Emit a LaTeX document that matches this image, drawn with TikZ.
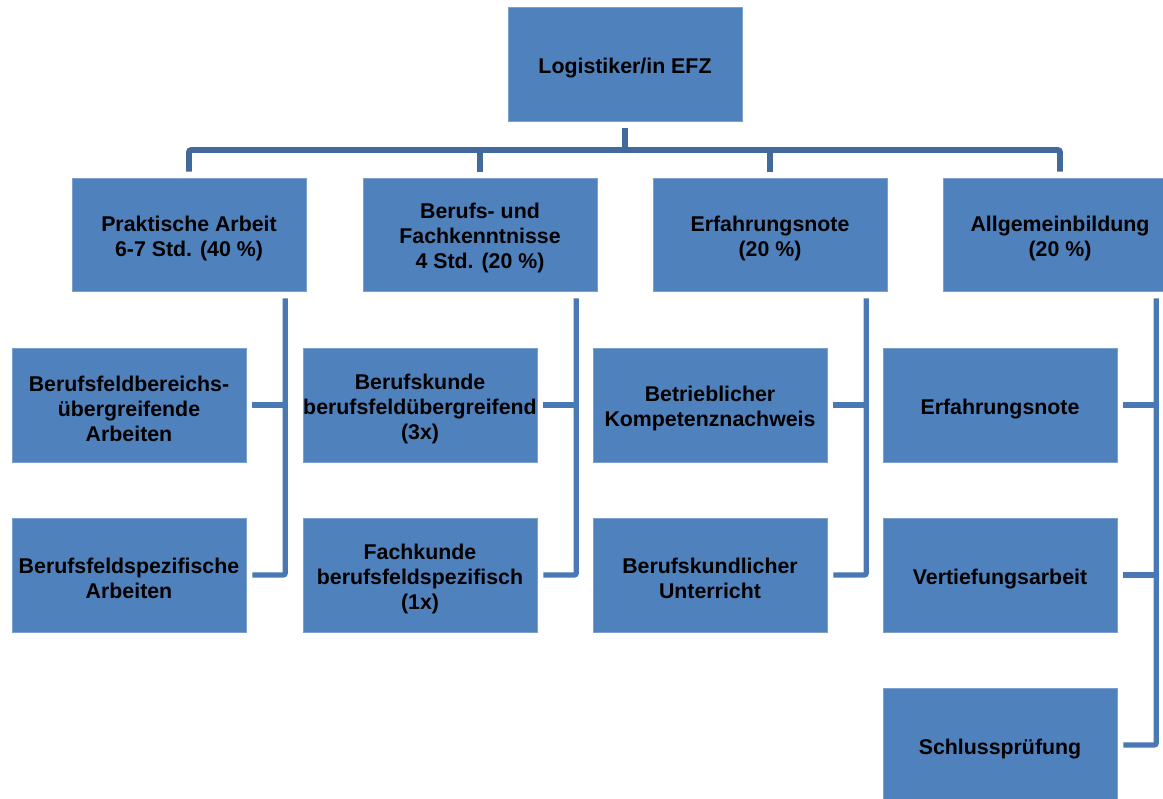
\documentclass[tikz,border=0pt]{standalone}
\usepackage{fontspec}
\setmainfont{Liberation Sans}
\usetikzlibrary{calc}
\definecolor{boxblue}{HTML}{4F81BD}
\definecolor{busline}{HTML}{41699B}
\definecolor{subline}{HTML}{4A78B4}
\begin{document}
\begin{tikzpicture}[x=0.75pt,y=-0.75pt,
  box/.style={fill=boxblue, draw=boxblue!75!white, line width=0.4pt,
    font=\fontsize{16}{18.7}\selectfont\bfseries, align=center, inner sep=0pt,
    minimum width=175.5pt},
  txt/.style={label={[font=\fontsize{16}{18.7}\selectfont\bfseries, align=center, inner sep=0pt, yshift=-2.7pt]center:#1}},
  toplevel/.style={box, minimum height=85.5pt},
  midlevel/.style={box, minimum height=84.75pt},
  leaf/.style={box, minimum height=85.5pt},
  bus/.style={draw=busline, line width=4.2pt, rounded corners=1.5pt},
  sub/.style={draw=subline, line width=3.9pt, rounded corners=1.5pt}
]
\useasboundingbox (0,0) rectangle (1163,799);
\clip (0,0) rectangle (1163,799);
\fill[white] (0,0) rectangle (1163,799);

\node[toplevel, txt={Logistiker/in EFZ}] (root) at (625,64.5) {};

\node[midlevel, txt={Praktische Arbeit\\6-7 Std. (40 \%)}] (a) at (189,234.5) {};
\node[midlevel, txt={Berufs- und\\Fachkenntnisse\\4 Std. (20 \%)}] (b) at (480,234.5) {};
\node[midlevel, txt={Erfahrungsnote\\(20 \%)}] (c) at (770,234.5) {};
\node[midlevel, txt={Allgemeinbildung\\(20 \%)}] (d) at (1060,234.5) {};

\node[leaf, txt={Berufsfeldbereichs-\\übergreifende\\Arbeiten}] (a1) at (129,405) {};
\node[leaf, txt={Berufsfeldspezifische\\Arbeiten}] (a2) at (129,575) {};
\node[leaf, txt={Berufskunde\\berufsfeldübergreifend\\(3x)}] (b1) at (420,405) {};
\node[leaf, txt={Fachkunde\\berufsfeldspezifisch\\(1x)}] (b2) at (420,575) {};
\node[leaf, txt={Betrieblicher\\Kompetenznachweis}] (c1) at (710,405) {};
\node[leaf, txt={Berufskundlicher\\Unterricht}] (c2) at (710,575) {};
\node[leaf, txt={Erfahrungsnote}] (d1) at (1000,405) {};
\node[leaf, txt={Vertiefungsarbeit}] (d2) at (1000,575) {};
\node[leaf, txt={Schlussprüfung}] (d3) at (1000,745) {};

% top bus
\coordinate (busy) at (625,150);
\draw[bus] ($(root.south)+(0,6)$) -- (root.south |- busy);
\draw[bus] ($(a.north)+(0,-6)$) -- (a.north |- busy) -- (d.north |- busy) -- ($(d.north)+(0,-6)$);
\draw[bus] (b.north |- busy) -- ($(b.north)+(0,-6)$);
\draw[bus] (c.north |- busy) -- ($(c.north)+(0,-6)$);

% sub connectors
\foreach \p/\q/\r in {a/a1/a2, b/b1/b2, c/c1/c2}{
  \coordinate (\p v) at ($(\p.south east)+(-21,7)$);
  \draw[sub] (\p v) |- ($(\r.east)+(6,0)$);
  \draw[sub] ($(\q.east)+(6,0)$) -- (\q.east -| \p v);
}
\coordinate (dv) at ($(d.south east)+(-21,7)$);
\draw[sub] (dv) |- ($(d3.east)+(6,0)$);
\draw[sub] ($(d1.east)+(6,0)$) -- (d1.east -| dv);
\draw[sub] ($(d2.east)+(6,0)$) -- (d2.east -| dv);
\end{tikzpicture}
\end{document}
